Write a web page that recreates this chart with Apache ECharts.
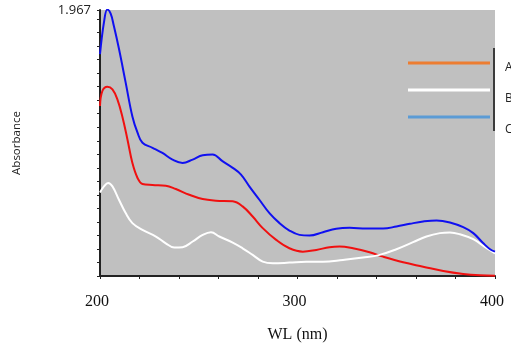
<!DOCTYPE html>
<html><head><meta charset="utf-8">
<script src="https://cdn.jsdelivr.net/npm/echarts@6/dist/echarts.min.js"></script>
<style>html,body{margin:0;padding:0;background:#fff}#c{width:511px;height:351px}</style>
</head><body><div id="c"></div>
<script>
// Series A (red)
const aWL  = [200,201.2,203.7,206.3,208.8,211.3,213.9,216.4,219,221.5,226.6,233.3,238.4,245.2,252,258.7,267.2,272.2,277.3,282.4,289.2,295.9,302.7,309.5,316.2,321.3,328.1,336.5,343.3,353.5,363.6,373.8,383.9,392.4,400];
const aAbs = [1.257,1.368,1.40,1.38,1.306,1.18,1.01,0.836,0.725,0.68,0.673,0.668,0.643,0.601,0.569,0.557,0.552,0.515,0.44,0.354,0.267,0.205,0.18,0.193,0.213,0.218,0.205,0.176,0.143,0.101,0.069,0.037,0.015,0.005,0.002];
// Series B (white)
const bWL  = [200,202,204.1,206.3,209.6,213,216.4,221.5,228.3,233.3,237.6,241.8,246.9,252,256.2,260.4,267.2,272.2,277.3,282.4,287.5,295.9,304.4,312.9,323,333.2,341.6,350.1,358.5,365.3,372.1,377.2,382.2,389,395.8,400];
const bAbs = [0.618,0.663,0.688,0.663,0.564,0.465,0.391,0.341,0.292,0.242,0.21,0.213,0.255,0.304,0.324,0.292,0.247,0.205,0.156,0.106,0.094,0.099,0.106,0.106,0.119,0.136,0.156,0.198,0.25,0.292,0.317,0.322,0.309,0.272,0.205,0.168];
// Series C (blue)
const cWL  = [200,202,203.7,205.4,207,209.6,213,216.4,219,221.5,226.6,231.6,236.7,241.8,246.9,252,257,262,267.2,271.4,275.6,280.7,285.8,290.9,295.9,301,306.1,312.9,319.6,326.4,334.9,343.3,350.1,356.9,363.6,370.4,377.2,383.9,389,394.1,397.5,400];
const cAbs = [1.64,1.875,1.97,1.94,1.85,1.68,1.43,1.18,1.06,0.985,0.948,0.91,0.861,0.836,0.861,0.893,0.898,0.849,0.80,0.75,0.663,0.564,0.465,0.391,0.336,0.304,0.299,0.324,0.349,0.356,0.351,0.351,0.366,0.386,0.403,0.411,0.396,0.361,0.317,0.242,0.198,0.18];
const seriesNames = ['A','B','C'];
const legendColors = ['#ED7D31','#FFFFFF','#5B9BD5'];
const yMax = 1.967;

const zip = (x,y) => x.map((v,i)=>[v,y[i]]);
const chart = echarts.init(document.getElementById('c'));
chart.setOption({
  animation:false,
  grid:{left:100,right:16,top:10,bottom:75,show:true,backgroundColor:'#c0c0c0',borderWidth:0},
  legend:[{
    orient:'vertical', left:403, top:52, itemGap:15, selectedMode:false,
    itemWidth:82, itemHeight:3, icon:'rect',
    formatter:()=>' ',
    textStyle:{fontFamily:'Open Sans, sans-serif',fontSize:12},
    data:seriesNames.map((n,i)=>({name:n,itemStyle:{color:legendColors[i]}}))
  },{
    orient:'vertical', left:500, top:61, padding:0, itemGap:17, selectedMode:false,
    itemWidth:0, itemHeight:14, icon:'none',
    textStyle:{fontFamily:'Open Sans, sans-serif',fontSize:12,lineHeight:14,color:'#222'},
    data:seriesNames
  }],
  xAxis:{type:'value',min:200,max:400,interval:20,
    axisLine:{show:true,lineStyle:{color:'#222',width:2}},
    axisTick:{show:true,length:3,inside:false,lineStyle:{color:'#222'}},
    splitLine:{show:false},
    axisLabel:{margin:18,padding:[0,6,0,0],fontFamily:'Liberation Serif, serif',fontSize:16,color:'#111',
      formatter:v=> (v%100===0)?String(v):''},
    name:'WL (nm)',nameLocation:'middle',nameGap:51,
    nameTextStyle:{fontFamily:'Liberation Serif, serif',fontSize:16,color:'#111'}
  },
  yAxis:{type:'value',min:0,max:yMax,interval:0.1,
    axisLine:{show:true,lineStyle:{color:'#222',width:2}},
    axisTick:{show:true,length:3,lineStyle:{color:'#222'}},
    splitLine:{show:false},
    axisLabel:{showMaxLabel:true,fontFamily:'Open Sans, sans-serif',fontSize:13,color:'#222',margin:9,
      formatter:v=> Math.abs(v-yMax)<1e-6 ? '1.967' : ''},
    name:'Absorbance',nameLocation:'middle',nameGap:77,
    nameTextStyle:{fontFamily:'Open Sans, sans-serif',fontSize:11.5,color:'#222'}
  },
  graphic:[{type:'line',shape:{x1:494,y1:48,x2:494,y2:131},style:{stroke:'#111',lineWidth:1.5}}],
  series:[
    {name:'A',type:'line',data:zip(aWL,aAbs),smooth:0.4,symbol:'none',lineStyle:{color:'#f01010',width:2},itemStyle:{color:'#f01010'}},
    {name:'B',type:'line',data:zip(bWL,bAbs),smooth:0.4,symbol:'none',lineStyle:{color:'#ffffff',width:2},itemStyle:{color:'#ffffff'}},
    {name:'C',type:'line',data:zip(cWL,cAbs),smooth:0.4,symbol:'none',lineStyle:{color:'#1010f0',width:2},itemStyle:{color:'#1010f0'}}
  ]
});
</script></body></html>
